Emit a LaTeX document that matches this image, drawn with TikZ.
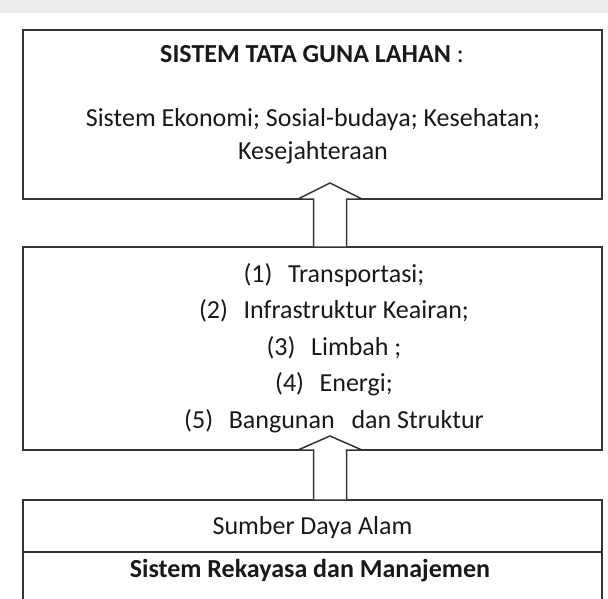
\documentclass[tikz,border=0pt]{standalone}
\usepackage{fontspec}
\setmainfont{Carlito}
\usetikzlibrary{calc}
\begin{document}
\begin{tikzpicture}[x=1pt,y=-1pt,
  box/.style={draw=black!80,line width=1.5pt,minimum width=579pt,inner sep=0pt,outer sep=0pt},
  txt/.style={anchor=base,inner sep=0pt,font=\fontsize{26}{31}\selectfont,text=black!90},
  btxt/.style={txt,font=\fontsize{26}{31}\selectfont\bfseries},
  blockarrow/.style={draw=black!80,line width=1.5pt,fill=white,line join=miter}]
\useasboundingbox (0,0) rectangle (608,599);
\fill[black!7] (0,0) rectangle (608,13);
% boxes
\node[box,minimum height=169pt] (top) at (312.5,114.5) {};
\node[box,minimum height=203pt] (mid) at (312.5,348.5) {};
\node[box,minimum height=52pt] (src) at (312.5,526) {};
\node[box,minimum height=68pt] (sys) at (312.5,586) {};
% texts
\node[btxt] (tt) at (312,63) {SISTEM TATA GUNA LAHAN {\mdseries :}};
\node[txt] (t2) at (313,127) {Sistem Ekonomi; Sosial-budaya; Kesehatan;};
\node[txt] (t3) at (313,160) {Kesejahteraan};
\node[txt] (m1) at (334,282) {(1)\hspace{0.6em}Transportasi;};
\node[txt] (m2) at (334,318.5) {(2)\hspace{0.6em}Infrastruktur Keairan;};
\node[txt] (m3) at (334,355) {(3)\hspace{0.6em}Limbah ;};
\node[txt] (m4) at (334,391.5) {(4)\hspace{0.6em}Energi;};
\node[txt] (m5) at (334,428) {(5)\hspace{0.6em}Bangunan\hspace{0.65em}dan Struktur};
\node[txt] (s1) at (312.5,534) {Sumber Daya Alam};
\node[btxt] (s2) at (310,577) {Sistem Rekayasa dan Manajemen};
% block arrows
\coordinate (ax) at (330,0);
\draw[blockarrow]
  ($(ax |- mid.north)+(-16.5,-0.75)$) -- ($(ax |- top.south)+(-16.5,0)$)
  -- ($(ax |- top.south)+(-32,0)$) -- ($(ax |- top.south)+(0,-16)$)
  -- ($(ax |- top.south)+(32,0)$) -- ($(ax |- top.south)+(16.5,0)$)
  -- ($(ax |- mid.north)+(16.5,-0.75)$);
\draw[blockarrow]
  ($(ax |- src.north)+(-16.5,-0.75)$) -- ($(ax |- mid.south)+(-16.5,0)$)
  -- ($(ax |- mid.south)+(-32,0)$) -- ($(ax |- mid.south)+(0,-14)$)
  -- ($(ax |- mid.south)+(32,0)$) -- ($(ax |- mid.south)+(16.5,0)$)
  -- ($(ax |- src.north)+(16.5,-0.75)$);
\end{tikzpicture}
\end{document}
